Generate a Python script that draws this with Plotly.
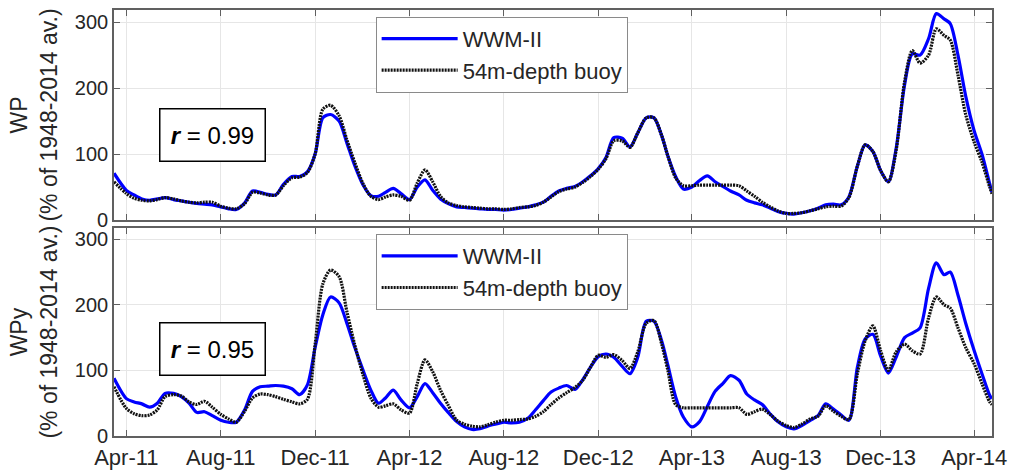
import plotly.graph_objects as go

# Sample dates: 1st, 11th and 21st of each month, plus the record ends
sample_dates = ["2011-03-16"]
for year in range(2011, 2015):
    for month in range(1, 13):
        if (2011, 4) <= (year, month) <= (2014, 4):
            for day in (1, 11, 21):
                sample_dates.append(f"{year}-{month:02d}-{day:02d}")
sample_dates.append("2014-04-24")

# WP (% of 1948-2014 average)
wp_wwm = [
    71,
    45, 38, 32, 30, 32, 34, 31, 29, 27, 25, 24, 23, 20, 17, 16, 26, 44, 42,
    39, 38, 54, 66, 66, 73, 100, 155, 160,
    150, 117, 83, 53, 37, 36, 42, 48, 40, 31, 50, 61, 45, 32, 25, 20, 19, 18,
    17, 16, 16, 15, 16, 18, 20, 23, 27, 36, 44, 48, 51, 58, 67, 78, 95, 125,
    124, 111, 132, 155, 155, 128, 97, 66, 47, 50, 60, 67, 58, 51, 44, 38, 30, 26,
    23, 18, 13, 10, 9, 11, 14, 18, 23, 24, 23, 35, 82, 114, 104, 75, 58, 108,
    205, 252, 250, 275, 313, 305, 298, 250, 188, 135, 100, 55,
    42,
]
wp_buoy = [
    58,
    40, 33, 30, 29, 31, 34, 32, 29, 27, 26, 27, 27, 21, 18, 17, 25, 42, 41,
    38, 38, 52, 64, 65, 72, 100, 168, 174,
    158, 122, 88, 55, 36, 31, 35, 38, 36, 30, 56, 76, 58, 36, 26, 22, 20, 19,
    18, 17, 17, 16, 17, 19, 20, 22, 27, 35, 43, 47, 50, 57, 66, 77, 93, 120,
    120, 110, 132, 155, 155, 128, 97, 64, 52, 52, 53, 53, 53, 53, 53, 52, 44, 36,
    27, 20, 14, 10, 10, 11, 14, 17, 20, 21, 21, 34, 82, 114, 104, 75, 58, 105,
    210, 257, 238, 250, 290, 280, 273, 220, 160, 118, 88, 50,
    40,
]

# WPy (% of 1948-2014 average)
wpy_wwm = [
    88,
    57, 52, 49, 44, 50, 65, 65, 60, 50, 36, 37, 31, 24, 21, 21, 40, 68, 75,
    76, 77, 76, 72, 63, 78, 135, 185, 212,
    203, 172, 136, 100, 70, 50, 58, 70, 55, 43, 60, 80, 66, 50, 36, 22, 14, 10,
    11, 15, 18, 21, 20, 21, 27, 40, 54, 67, 73, 77, 71, 86, 105, 121, 125, 120,
    106, 95, 120, 175, 175, 145, 108, 60, 29, 14, 22, 45, 68, 80, 92, 85, 64, 55,
    48, 34, 22, 14, 11, 16, 24, 31, 49, 41, 32, 24, 105, 148, 155, 122, 96, 120,
    150, 157, 165, 225, 264, 246, 250, 215, 172, 130, 95, 62,
    57,
]
wpy_buoy = [
    75,
    42, 34, 31, 32, 40, 60, 63, 61, 52, 48, 53, 44, 33, 26, 21, 38, 58, 64,
    63, 60, 56, 52, 49, 56, 140, 232, 253,
    243, 190, 140, 93, 58, 44, 46, 49, 40, 35, 80, 116, 98, 70, 47, 24, 18, 15,
    14, 17, 21, 24, 24, 25, 26, 30, 37, 48, 58, 66, 74, 85, 105, 123, 120, 124,
    115, 103, 128, 172, 176, 140, 100, 48, 43, 43, 43, 43, 43, 43, 43, 43, 33, 37,
    41, 33, 23, 16, 13, 18, 26, 30, 46, 38, 30, 25, 95, 145, 168, 130, 100, 128,
    140, 130, 125, 180, 212, 200, 195, 165, 135, 110, 80, 52,
    48,
]

series_names = ["WWM-II", "54m-depth buoy"]
panel_titles = ["WP<br>(% of 1948-2014 av.)", "WPy<br>(% of 1948-2014 av.)"]
r_values = ["0.99", "0.95"]
tick_vals_y = [0, 100, 200, 300]

FONT = "Liberation Sans, Arial, sans-serif"
TXT = "#262626"
AX = "#606060"
GRID = "#e6e6e6"

fig = go.Figure()

panels = [
    (wp_wwm, wp_buoy, "x", "y", "legend"),
    (wpy_wwm, wpy_buoy, "x2", "y2", "legend2"),
]
for model, buoy, xa, ya, leg in panels:
    fig.add_trace(go.Scatter(
        x=sample_dates, y=model, mode="lines", name=series_names[0],
        xaxis=xa, yaxis=ya, legend=leg,
        line=dict(color="#0000ff", width=3.2, shape="spline", smoothing=0.8),
    ))
    fig.add_trace(go.Scatter(
        x=sample_dates, y=buoy, mode="lines", name=series_names[1],
        xaxis=xa, yaxis=ya, legend=leg,
        line=dict(color="#111111", width=3.2, shape="spline", smoothing=0.8,
                  dash="2px,1px"),
    ))

common_x = dict(
    type="date", range=["2011-03-16", "2014-04-24"],
    tick0="2011-04-01", dtick="M4", tickformat="%b-%y",
    ticks="inside", ticklen=6, tickwidth=1, tickcolor=AX,
    showline=True, linecolor=AX, linewidth=1.6, mirror="ticks",
    showgrid=True, gridcolor=GRID, gridwidth=1, zeroline=False,
    automargin=False,
    tickfont=dict(family=FONT, size=22, color=TXT),
)
common_y = dict(
    tickvals=tick_vals_y,
    ticks="inside", ticklen=6, tickwidth=1, tickcolor=AX,
    showline=True, linecolor=AX, linewidth=1.6, mirror="ticks",
    showgrid=True, gridcolor=GRID, gridwidth=1, zeroline=False,
    automargin=False,
    tickfont=dict(family=FONT, size=20, color=TXT),
)

legend_common = dict(
    xanchor="left", yanchor="top", x=0.298,
    bgcolor="white", bordercolor="#8a8a8a", borderwidth=1,
    font=dict(family=FONT, size=22, color=TXT),
    itemwidth=76, tracegroupgap=0,
)

fig.update_layout(
    width=1009, height=470,
    margin=dict(l=114, r=17, t=10, b=34, autoexpand=False),
    paper_bgcolor="white", plot_bgcolor="white",
    font=dict(family=FONT, color=TXT),
    xaxis=dict(common_x, domain=[0, 1], anchor="y", showticklabels=False),
    yaxis=dict(common_y, domain=[0.507, 1], range=[0, 318.5],
               title=dict(text=panel_titles[0], standoff=11,
                          font=dict(family=FONT, size=23, color=TXT))),
    xaxis2=dict(common_x, domain=[0, 1], anchor="y2", ticklabelstandoff=1),
    yaxis2=dict(common_y, domain=[0, 0.488], range=[0, 317],
                title=dict(text=panel_titles[1], standoff=11,
                           font=dict(family=FONT, size=23, color=TXT))),
    legend=dict(legend_common, y=0.984),
    legend2=dict(legend_common, y=0.474),
    showlegend=True,
)

# Correlation boxes
for r_txt, yref, ypos in zip(r_values, ["y domain", "y2 domain"], [0.407, 0.42]):
    fig.add_annotation(
        text=f"<b><i>r</i></b> = {r_txt}",
        xref="x domain", yref=yref, x=0.1125, y=ypos,
        xanchor="center", yanchor="middle", showarrow=False,
        font=dict(family=FONT, size=24, color="black"),
        bgcolor="white", bordercolor="black", borderwidth=1.5,
        width=100, height=47, borderpad=2,
    )

fig.write_html("out.html")
